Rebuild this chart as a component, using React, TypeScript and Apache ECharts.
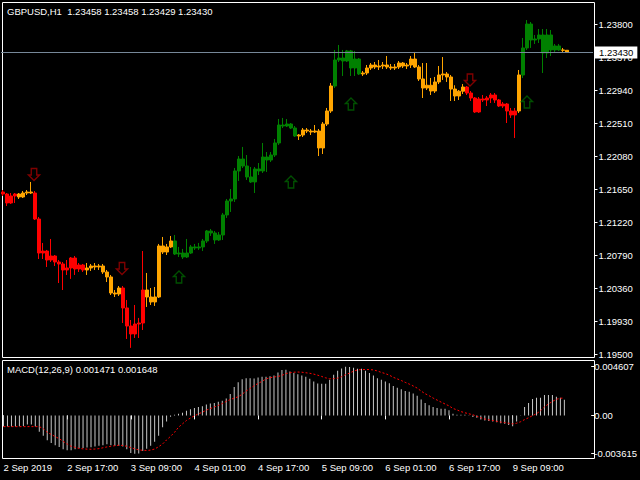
import React, { useEffect, useRef } from 'react';
import * as echarts from 'echarts';

const symbolName = 'GBPUSD';
const timeframe = 'H1';
const macdParams = [12, 26, 9];
const slotCount = 148;
const barsPerLabel = 16;
const timeLabels = ['2 Sep 2019', '2 Sep 17:00', '3 Sep 09:00', '4 Sep 01:00', '4 Sep 17:00', '5 Sep 09:00', '6 Sep 01:00', '6 Sep 17:00', '9 Sep 09:00'];
const priceTicks = [1.195, 1.1993, 1.2036, 1.2079, 1.2122, 1.2165, 1.2208, 1.2251, 1.2294, 1.2337, 1.238];
const priceMin = 1.19461;
const priceMax = 1.24087;
const macdMin = -0.004026;
const macdMax = 0.005236;

const opens = [
  1.21611, 1.21585, 1.21468, 1.21559, 1.21585, 1.21546, 1.21598, 1.21611, 1.21598, 1.21259,
  1.20816, 1.20842, 1.20725, 1.20777, 1.20699, 1.20673, 1.20595, 1.20621, 1.20751, 1.20608,
  1.2066, 1.20595, 1.20621, 1.20647, 1.20634, 1.20647, 1.20569, 1.20504, 1.20295, 1.20282,
  1.2036, 1.201, 1.19865, 1.19761, 1.19891, 1.19904, 1.20334, 1.20243, 1.20178, 1.20243,
  1.20908, 1.20829, 1.20895, 1.20973, 1.20803, 1.20816, 1.20764, 1.20816, 1.20895, 1.20882,
  1.20895, 1.20973, 1.21103, 1.21077, 1.20986, 1.21051, 1.21312, 1.21494, 1.2152, 1.21885,
  1.22041, 1.2195, 1.21807, 1.21742, 1.21911, 1.21885, 1.22067, 1.22028, 1.22093, 1.2225,
  1.22484, 1.22471, 1.22497, 1.22445, 1.22341, 1.22354, 1.22419, 1.22406, 1.22393, 1.22406,
  1.22185, 1.22497, 1.22667, 1.22992, 1.23331, 1.23357, 1.23318, 1.23449, 1.23227, 1.23344,
  1.23149, 1.23162, 1.23227, 1.23266, 1.2324, 1.23253, 1.23266, 1.2324, 1.23227, 1.2324,
  1.23292, 1.23253, 1.23266, 1.23344, 1.2324, 1.23084, 1.22966, 1.23002, 1.22927, 1.23045,
  1.23136, 1.23149, 1.2311, 1.22953, 1.22862, 1.22925, 1.22979, 1.22901, 1.22836, 1.22654,
  1.22823, 1.2281, 1.22836, 1.22875, 1.2281, 1.22732, 1.22758, 1.22667, 1.22615, 1.22667,
  1.23136, 1.23488, 1.238, 1.23592, 1.23605, 1.23657, 1.23423, 1.23657, 1.23462, 1.23514,
  1.23462, 1.23458,
];
const closes = [
  1.21585, 1.21468, 1.21559, 1.21585, 1.21546, 1.21598, 1.21611, 1.21598, 1.21259, 1.20816,
  1.20842, 1.20725, 1.20777, 1.20699, 1.20673, 1.20595, 1.20621, 1.20751, 1.20608, 1.2066,
  1.20595, 1.20621, 1.20647, 1.20634, 1.20647, 1.20569, 1.20504, 1.20295, 1.20282, 1.2036,
  1.201, 1.19865, 1.19761, 1.19891, 1.19904, 1.20334, 1.20243, 1.20178, 1.20243, 1.20908,
  1.20829, 1.20895, 1.20973, 1.20803, 1.20816, 1.20764, 1.20816, 1.20895, 1.20882, 1.20895,
  1.20973, 1.21103, 1.21077, 1.20986, 1.21051, 1.21312, 1.21494, 1.2152, 1.21885, 1.22041,
  1.2195, 1.21807, 1.21742, 1.21911, 1.21885, 1.22067, 1.22028, 1.22093, 1.2225, 1.22484,
  1.22471, 1.22497, 1.22445, 1.22341, 1.22354, 1.22419, 1.22406, 1.22393, 1.22406, 1.22185,
  1.22497, 1.22667, 1.22992, 1.23331, 1.23357, 1.23318, 1.23449, 1.23227, 1.23344, 1.23149,
  1.23162, 1.23227, 1.23266, 1.2324, 1.23253, 1.23266, 1.2324, 1.23227, 1.2324, 1.23292,
  1.23253, 1.23266, 1.23344, 1.2324, 1.23084, 1.22966, 1.23002, 1.22927, 1.23045, 1.23136,
  1.23149, 1.2311, 1.22953, 1.22862, 1.22925, 1.22979, 1.22901, 1.22836, 1.22654, 1.22823,
  1.2281, 1.22836, 1.22875, 1.2281, 1.22732, 1.22758, 1.22667, 1.22615, 1.22667, 1.23136,
  1.23488, 1.238, 1.23592, 1.23605, 1.23657, 1.23423, 1.23657, 1.23462, 1.23514, 1.23462,
  1.23458, 1.2343,
];
const highs = [
  1.21637, 1.21598, 1.21598, 1.21598, 1.21598, 1.21624, 1.21637, 1.21742, 1.21624, 1.21285,
  1.20947, 1.20856, 1.20999, 1.2079, 1.20725, 1.20699, 1.20725, 1.20764, 1.20777, 1.20686,
  1.20673, 1.20686, 1.20673, 1.20686, 1.20673, 1.20673, 1.20595, 1.2053, 1.20334, 1.20386,
  1.20386, 1.20204, 1.19943, 1.20139, 1.1997, 1.20842, 1.20556, 1.2036, 1.20373, 1.20934,
  1.21025, 1.20934, 1.21038, 1.21051, 1.20895, 1.20869, 1.20999, 1.20921, 1.20934, 1.20947,
  1.20999, 1.21116, 1.21129, 1.21103, 1.2109, 1.21338, 1.2152, 1.2165, 1.21924, 1.2208,
  1.22198, 1.22093, 1.21937, 1.21937, 1.21989, 1.2225, 1.22132, 1.22132, 1.22302, 1.22562,
  1.22576, 1.22562, 1.2251, 1.22471, 1.22367, 1.22445, 1.22445, 1.22432, 1.22484, 1.22432,
  1.22523, 1.22706, 1.23031, 1.23462, 1.23527, 1.23462, 1.23462, 1.23462, 1.23449, 1.23357,
  1.23188, 1.23266, 1.23292, 1.23305, 1.23331, 1.23305, 1.23383, 1.23279, 1.23279, 1.23318,
  1.23305, 1.23292, 1.23383, 1.23436, 1.23266, 1.23292, 1.23292, 1.23097, 1.2311, 1.23253,
  1.2337, 1.23175, 1.23136, 1.23002, 1.2294, 1.23018, 1.22992, 1.22927, 1.22849, 1.22849,
  1.22875, 1.22862, 1.22901, 1.22901, 1.22823, 1.22784, 1.22771, 1.22706, 1.22706, 1.23201,
  1.23618, 1.23852, 1.23826, 1.23657, 1.23735, 1.23735, 1.23735, 1.23722, 1.2354, 1.2354,
  1.23488, 1.23458,
];
const lows = [
  1.21559, 1.21429, 1.21455, 1.21468, 1.2152, 1.21533, 1.21572, 1.21585, 1.21246, 1.20738,
  1.20738, 1.20634, 1.20699, 1.20647, 1.20425, 1.20334, 1.2053, 1.20479, 1.2053, 1.20569,
  1.20569, 1.2053, 1.20582, 1.20595, 1.20595, 1.20543, 1.20438, 1.20269, 1.20243, 1.20256,
  1.19904, 1.19696, 1.1958, 1.19709, 1.19709, 1.19813, 1.20113, 1.20139, 1.20126, 1.2023,
  1.20803, 1.2079, 1.20882, 1.2079, 1.20764, 1.20738, 1.20751, 1.20803, 1.20856, 1.20856,
  1.20842, 1.20947, 1.21038, 1.20934, 1.20973, 1.20986, 1.21273, 1.21351, 1.21481, 1.21755,
  1.21924, 1.21768, 1.21729, 1.21598, 1.21833, 1.21859, 1.21872, 1.22002, 1.22067, 1.22224,
  1.22445, 1.22458, 1.22432, 1.22328, 1.22289, 1.22328, 1.2238, 1.22354, 1.2238, 1.2208,
  1.22106, 1.22471, 1.22641, 1.22966, 1.23305, 1.23123, 1.23305, 1.23123, 1.23123, 1.23136,
  1.23123, 1.23136, 1.23201, 1.23214, 1.23201, 1.23214, 1.23214, 1.23201, 1.23201, 1.23214,
  1.23227, 1.23214, 1.23227, 1.23227, 1.23058, 1.22836, 1.2294, 1.22875, 1.22901, 1.23018,
  1.23071, 1.23045, 1.22797, 1.22797, 1.2281, 1.22888, 1.22875, 1.22797, 1.22641, 1.22641,
  1.22784, 1.22732, 1.22771, 1.22771, 1.22719, 1.22706, 1.2251, 1.22576, 1.22315, 1.22641,
  1.23097, 1.23462, 1.23488, 1.2354, 1.23553, 1.23162, 1.23357, 1.23383, 1.23436, 1.23449,
  1.23436, 1.23429,
];
// trend state runs: r = down, o = flat, g = up
const trendRuns: [string, number][] = [
  ['r', 4], ['o', 4], ['r', 13], ['o', 9], ['r', 6], ['o', 7], ['g', 31], ['o', 9], ['g', 7],
  ['o', 26], ['r', 13], ['o', 1], ['g', 10], ['o', 2],
];
const sellArrows: [number, number][] = [[8, 1.21839], [30, 1.20614], [117, 1.23071]];
const buyArrows: [number, number][] = [[44, 1.20504], [72, 1.21742], [87, 1.22758], [131, 1.22784]];

const macdMain = [
  -0.00106, -0.00106, -0.00106, -0.00106, -0.00102, -0.00099, -0.00086, -0.00086, -0.00106, -0.00154,
  -0.00192, -0.00234, -0.00262, -0.00282, -0.00298, -0.0032, -0.0033, -0.0033, -0.0032, -0.0031,
  -0.00307, -0.00304, -0.00301, -0.00294, -0.00288, -0.00282, -0.00272, -0.00282, -0.00288, -0.00288,
  -0.00294, -0.0032, -0.00355, -0.003615, -0.0036, -0.00336, -0.00314, -0.00288, -0.0025, -0.00192,
  -0.00112, -0.00058, -0.00013, 0.00006, 0.00016, 0.00026, 0.00045, 0.00058, 0.0007, 0.0008,
  0.00086, 0.00102, 0.00112, 0.00118, 0.00128, 0.00138, 0.0016, 0.00202, 0.00269, 0.00314,
  0.00342, 0.00352, 0.00352, 0.00349, 0.00358, 0.00365, 0.00365, 0.00371, 0.00377, 0.00406,
  0.00429, 0.00432, 0.00416, 0.004, 0.0039, 0.00377, 0.00365, 0.00346, 0.0032, 0.00301,
  0.00298, 0.00298, 0.00336, 0.00384, 0.00422, 0.00443, 0.004607, 0.00458, 0.0045, 0.00441,
  0.00441, 0.00422, 0.004, 0.00377, 0.00352, 0.00336, 0.0032, 0.00304, 0.00278, 0.00262,
  0.00246, 0.0023, 0.00224, 0.00208, 0.00186, 0.0015, 0.00118, 0.00096, 0.0008, 0.0007,
  0.00064, 0.00064, 0.00048, 0.00016, 0.00006, 0.00006, 0.00006, -0.00003, -0.00016, -0.00022,
  -0.00038, -0.00048, -0.00054, -0.00058, -0.00064, -0.00074, -0.0008, -0.0009, -0.00102, -0.00058,
  0.00002, 0.0008, 0.00118, 0.00154, 0.00166, 0.00166, 0.00192, 0.00192, 0.00192, 0.00176,
  0.00166, 0.001471,
];
const macdSignal = [
  -0.00106, -0.00106, -0.00106, -0.00106, -0.00106, -0.00106, -0.00106, -0.00106, -0.00106, -0.00106,
  -0.00125, -0.0016, -0.0018, -0.002, -0.0022, -0.00245, -0.0027, -0.00292, -0.00302, -0.00312,
  -0.00316, -0.00319, -0.0032, -0.00318, -0.00314, -0.00306, -0.00298, -0.00292, -0.00286, -0.00282,
  -0.00284, -0.00292, -0.00304, -0.00316, -0.00326, -0.0033, -0.00331, -0.00328, -0.00318, -0.00296,
  -0.0027, -0.00232, -0.00198, -0.0016, -0.00112, -0.0008, -0.00048, -0.00025, -0.00004, 0.00014,
  0.0003, 0.0005, 0.00065, 0.0008, 0.00094, 0.00112, 0.00132, 0.0015, 0.00163, 0.00176,
  0.002, 0.0023, 0.00255, 0.0028, 0.00302, 0.00322, 0.00345, 0.00356, 0.00363, 0.00368,
  0.00378, 0.00395, 0.00403, 0.00408, 0.0041, 0.00408, 0.00403, 0.00398, 0.0039, 0.0038,
  0.00368, 0.00355, 0.00346, 0.00347, 0.00352, 0.00366, 0.00385, 0.004, 0.00418, 0.0043,
  0.00433, 0.00434, 0.00433, 0.0043, 0.0042, 0.00406, 0.00395, 0.0038, 0.0036, 0.00345,
  0.0033, 0.00312, 0.00296, 0.00278, 0.00258, 0.0023, 0.00205, 0.00186, 0.00164, 0.00145,
  0.00126, 0.00108, 0.0009, 0.00066, 0.00052, 0.00036, 0.00025, 0.00015, 0.00006, -0.00008,
  -0.00022, -0.00034, -0.00042, -0.00048, -0.00056, -0.00063, -0.00068, -0.00074, -0.0008, -0.00074,
  -0.0006, -0.0004, -0.00022, -0.00002, 0.00016, 0.00044, 0.0008, 0.00108, 0.00132, 0.00152,
  0.00162, 0.001648,
];

const FONT = 'Liberation Sans';
const FS = 9.5;
const trendColors: Record<string, string> = { r: '#ff0000', o: '#ffa500', g: '#008000' };

function buildOption() {
  const trend: string[] = [];
  trendRuns.forEach(([c, n]) => { for (let k = 0; k < n; k++) trend.push(c); });
  const candleData = opens.map((o, i) => {
    const col = trendColors[trend[i]] || '#ffa500';
    return {
      value: [o, closes[i], lows[i], highs[i]],
      itemStyle: { color: col, color0: col, borderColor: col, borderColor0: col, borderWidth: 1 },
    };
  });
  const slots = Array.from({ length: slotCount }, (_, i) => String(i));
  const last = opens.length - 1;
  const title = `${symbolName},${timeframe}  ${opens[last].toFixed(5)} ${highs[last].toFixed(5)} ${lows[last].toFixed(5)} ${closes[last].toFixed(5)}`;
  const macdTitle = `MACD(${macdParams.join(',')}) ${macdMain[last].toFixed(6)} ${macdSignal[last].toFixed(6)}`;
  const mMax = Math.max(...macdMain);
  const mMin = Math.min(...macdMain);
  const labelShown = (idx: number) => idx % barsPerLabel === 0 && idx / barsPerLabel < timeLabels.length;

  return {
    animation: false,
    backgroundColor: '#000',
    textStyle: { fontFamily: FONT },
    grid: [
      { left: 1, top: 2, width: 592, height: 355 },
      { left: 1.5, top: 360, width: 592, height: 98 },
    ],
    xAxis: [
      { type: 'category', gridIndex: 0, data: slots, boundaryGap: true, show: false },
      {
        type: 'category', gridIndex: 1, data: slots, boundaryGap: true,
        axisLine: { show: false },
        splitLine: { show: false },
        axisTick: { show: true, length: 4, alignWithLabel: true, interval: (idx: number) => labelShown(idx), lineStyle: { color: '#fff' } },
        axisLabel: {
          interval: (idx: number) => labelShown(idx),
          formatter: (_v: string, idx: number) => (labelShown(idx) ? timeLabels[idx / barsPerLabel] : ''),
          color: '#fff', fontSize: FS, fontFamily: FONT, align: 'left', margin: 4,
        },
      },
    ],
    yAxis: [
      {
        type: 'value', gridIndex: 0, position: 'right', offset: 1.5, min: priceMin, max: priceMax, scale: true,
        axisLine: { show: false }, splitLine: { show: false },
        axisTick: { show: true, length: 3, customValues: priceTicks, lineStyle: { color: '#fff' } },
        axisLabel: {
          customValues: priceTicks, formatter: (v: number) => v.toFixed(5),
          color: '#fff', fontSize: FS, fontFamily: FONT, align: 'left', margin: 4,
        },
      },
      {
        type: 'value', gridIndex: 1, position: 'right', offset: 1, min: macdMin, max: macdMax,
        axisLine: { show: false }, splitLine: { show: false },
        axisTick: { show: true, length: 3, customValues: [mMin, 0, mMax], lineStyle: { color: '#fff' } },
        axisLabel: {
          customValues: [mMin, 0, mMax], formatter: (v: number) => (v === 0 ? '0.00' : v.toFixed(6)),
          color: '#fff', fontSize: FS, fontFamily: FONT, align: 'left', margin: 3,
        },
      },
    ],
    graphic: [
      { type: 'rect', silent: true, shape: { x: 2.5, y: 2.5, width: 592, height: 355 }, style: { fill: 'none', stroke: '#fff', lineWidth: 1 } },
      { type: 'rect', silent: true, shape: { x: 2.5, y: 360.5, width: 592, height: 98 }, style: { fill: 'none', stroke: '#fff', lineWidth: 1 } },
      { type: 'text', silent: true, x: 7, y: 11, style: { text: title, fill: '#fff', font: `${FS}px "${FONT}"`, verticalAlign: 'middle', textVerticalAlign: 'middle' } },
      { type: 'text', silent: true, x: 7, y: 369, style: { text: macdTitle, fill: '#fff', font: `${FS}px "${FONT}"`, verticalAlign: 'middle', textVerticalAlign: 'middle' } },
    ],
    series: [
      {
        type: 'candlestick', xAxisIndex: 0, yAxisIndex: 0, data: candleData, barWidth: 3, silent: true, z: 3,
        markLine: {
          silent: true, symbol: ['none', 'none'], animation: false, precision: 5,
          data: [{ yAxis: closes[last] }],
          lineStyle: { color: '#778899', width: 1, type: 'solid' },
          label: {
            show: true, position: 'end', distance: 2,
            formatter: (p: any) => Number(p.value).toFixed(5),
            backgroundColor: '#fff', color: '#000', padding: [1, 4, 1, 4], fontSize: FS, fontFamily: FONT,
          },
        },
      },
      {
        type: 'scatter', xAxisIndex: 0, yAxisIndex: 0, data: sellArrows, silent: true, z: 4,
        symbol: 'path://M2.5,0 L7.5,0 L7.5,6 L10,6 L5,11 L0,6 L2.5,6 Z', symbolSize: [11, 12], symbolOffset: [-1, 0],
        itemStyle: { color: '#000', borderColor: '#a00000', borderWidth: 1.4 },
      },
      {
        type: 'scatter', xAxisIndex: 0, yAxisIndex: 0, data: buyArrows, silent: true, z: 4,
        symbol: 'path://M5,0 L10,5 L7.5,5 L7.5,11 L2.5,11 L2.5,5 L0,5 Z', symbolSize: [11, 12], symbolOffset: [0, 0],
        itemStyle: { color: '#000', borderColor: '#006400', borderWidth: 1.4 },
      },
      {
        type: 'bar', xAxisIndex: 1, yAxisIndex: 1, data: macdMain, barWidth: 1, silent: true,
        itemStyle: { color: '#c8c8c8' },
      },
      {
        type: 'line', xAxisIndex: 1, yAxisIndex: 1, data: macdSignal, silent: true, showSymbol: false, symbol: 'none',
        lineStyle: { color: '#ff0000', width: 1, type: [2, 2] }, z: 5,
      },
    ],
  };
}

export default function App() {
  const ref = useRef<HTMLDivElement>(null);
  useEffect(() => {
    if (!ref.current) return;
    const chart = echarts.init(ref.current, null, { renderer: 'svg' });
    chart.setOption(buildOption() as any);
    return () => chart.dispose();
  }, []);
  return (
    <div
      ref={ref}
      style={{ position: 'fixed', left: 0, top: 0, width: 640, height: 480, background: '#000' }}
    />
  );
}
